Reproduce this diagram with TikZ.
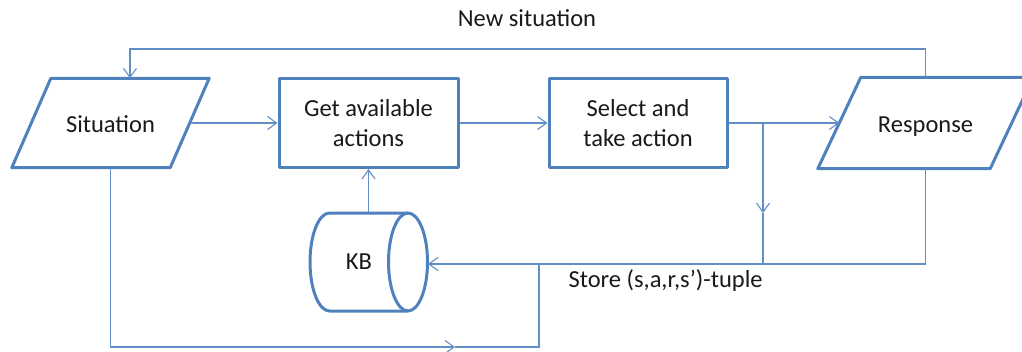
\documentclass[tikz,border=0pt]{standalone}
\usepackage{fontspec}
\setmainfont{Carlito}
\usetikzlibrary{arrows.meta}

\definecolor{boxblue}{RGB}{79,129,189}
\definecolor{lineblue}{RGB}{98,142,198}

% slanted outline (parallelogram) around a rectangular node #1, slant #2
\newcommand\slantedoutline[2]{%
  \draw[boxline] ([xshift=#2]#1.north west) -- (#1.north east)
    -- ([xshift=-#2]#1.south east) -- (#1.south west) -- cycle;}

\begin{document}
\begin{tikzpicture}[x=1pt,y=-1pt,
  every node/.style={font=\fontsize{24.5}{30}\selectfont, text=black!90},
  boxline/.style={draw=boxblue, line width=3pt, line join=round},
  stepbox/.style={boxline, inner sep=0pt, align=center},
  iobox/.style={inner sep=0pt, align=center, text height=18pt, text depth=0pt},
  conn/.style={draw=lineblue, line width=1.1pt},
  arr/.style={conn, -{Straight Barb[length=9pt,width=13pt,line width=1.1pt]}}]

\clip (0,0) rectangle (1022,351);

% process steps
\node[iobox, minimum width=197pt, minimum height=89pt] (sit) at (110.5,123) {Situation};
\node[stepbox, minimum width=179pt, minimum height=89pt] (get) at (368.5,123) {Get available\\actions};
\node[stepbox, minimum width=178pt, minimum height=89pt] (sel) at (638,123) {Select and\\take action};
\node[iobox, minimum width=215pt, minimum height=91pt] (resp) at (925.5,123) {Response};
\slantedoutline{sit}{39pt}
\slantedoutline{resp}{43pt}

% knowledge base (horizontal cylinder)
\node (kb) at (359,262) {KB};
\draw[boxline] (408,213) -- (329.5,213)
  arc[start angle=90, end angle=270, x radius=19.5pt, y radius=49pt] -- (408,311);
\draw[boxline] (408,262) ellipse [x radius=19.5pt, y radius=49pt];
\coordinate (kbtop) at (368.5,213);
\coordinate (kbin) at (428,264);

% labels
\node[anchor=base] (newlbl) at (527,26) {New situation};
\node[anchor=base west] (storelbl) at (565,287) {Store (s,a,r,s’)-tuple};

% routing points
\coordinate (loop) at (130,49);
\coordinate (br) at (763,123);
\coordinate (brarr) at (763,213);
\coordinate (brbot) at (763,264);
\coordinate (botarr) at (455,347);
\coordinate (join) at (539,264);

% main flow
\draw[arr] ([xshift=-19.5pt]sit.east) -- (get.west);
\draw[arr] (get.east) -- (sel.west);
\draw[arr] (sel.east) -- ([xshift=21.5pt]resp.west);
\draw[arr] (kbtop) -- (get.south);

% feedback loop
\draw[arr] (resp.north) |- (loop) -- (loop |- sit.north);

% storing the tuple
\draw[arr] (br) -- (brarr);
\draw[conn] (brarr) -- (brbot);
\draw[arr] (resp.south) |- (kbin);
\draw[arr] (sit.south) |- (botarr);
\draw[conn] (botarr) -| (join);
\end{tikzpicture}
\end{document}
